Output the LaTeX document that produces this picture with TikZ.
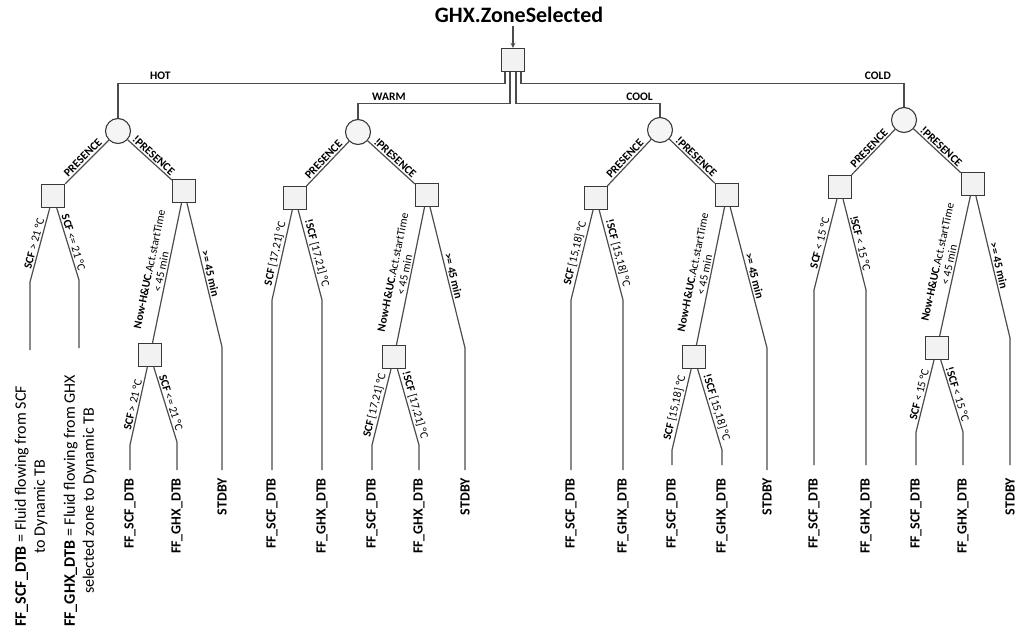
\documentclass[tikz,border=0pt]{standalone}
\usepackage{fontspec}
\setmainfont{Carlito}
\begin{document}
\begin{tikzpicture}[x=1pt,y=-1pt,
  ln/.style={draw=gray!60!black,line width=1.2pt},
  bx/.style={draw=gray!45!black,line width=1.3pt,fill=gray!10,minimum size=23pt,inner sep=0pt},
  cr/.style={circle,draw=gray!45!black,line width=1.1pt,fill=gray!8,minimum size=25pt,inner sep=0pt},
  el/.style={font=\fontsize{11.5}{12}\selectfont,sloped,above,inner sep=1.5pt},
  eb/.style={el,font=\bfseries\fontsize{11.5}{12}\selectfont},
  br/.style={font=\bfseries\fontsize{11.5}{12}\selectfont,above,inner sep=2pt},
  lf/.style={font=\bfseries\fontsize{14}{15}\selectfont,rotate=90,anchor=east,inner sep=0pt},
  lg/.style={font=\fontsize{16}{19}\selectfont,rotate=90,anchor=west,align=center,inner sep=0pt}]
\useasboundingbox (0,0) rectangle (1024,631);
\node[font=\bfseries\fontsize{22}{24}\selectfont] (title) at (519,15) {GHX.ZoneSelected};
\node[bx] (root) at (513,60) {};
\draw[ln,-stealth] ([xshift=-6pt]title.south) -- (root);
% level-1 circles
\node[cr] (hot) at (118,131) {};
\node[cr] (warm) at (358,132) {};
\node[cr] (cool) at (660,130) {};
\node[cr] (cold) at (904,120) {};
\draw[ln] ([xshift=-8pt]root.south) -- ++(0,11) coordinate (hh) -| (hot);
\draw[ln] ([xshift=-3pt]root.south) -- ++(0,31) coordinate (ww) -| (warm);
\draw[ln] ([xshift=3pt]root.south) -- ++(0,31) coordinate (oo) -| (cool);
\draw[ln] ([xshift=8pt]root.south) -- ++(0,11) coordinate (dd) -| (cold);
\node[br,anchor=south west] at (148,82) {HOT};
\node[br,anchor=south west] at (370,103) {WARM};
\node[br,anchor=south east] at (655,103) {COOL};
\node[br,anchor=south east] at (893,82) {COLD};

% ================= HOT
\node[bx] (hp) at (53,196) {};
\node[bx] (hn) at (184,191) {};
\draw[ln] (hot) -- node[eb]{PRESENCE} (hp);
\draw[ln] (hot) -- node[eb]{!PRESENCE} (hn);
\coordinate (h1) at (30,282); \coordinate (h1e) at (30,350);
\coordinate (h2) at (79,280); \coordinate (h2e) at (79,348);
\draw[ln] (hp) -- node[el]{\textbf{SCF} > 21 °C} (h1) -- (h1e);
\draw[ln] (hp) -- node[el]{\textbf{SCF} <= 21 °C} (h2) -- (h2e);
\node[bx] (hs) at (150,355) {};
\coordinate (h3) at (222,347); \coordinate (h3e) at (222,470);
\draw[ln] (hn) -- node[el,align=center]{\textbf{Now-H\&UC}.Act.startTime\\< 45 min} (hs);
\draw[ln] (hn) -- node[eb]{>= 45 min} (h3) -- (h3e);
\coordinate (h4) at (130,445); \coordinate (h4e) at (130,470);
\coordinate (h5) at (177,442); \coordinate (h5e) at (177,470);
\draw[ln] (hs) -- node[el]{\textbf{SCF} > 21 °C} (h4) -- (h4e);
\draw[ln] (hs) -- node[el]{\textbf{SCF} <= 21 °C} (h5) -- (h5e);
\node[lg] (lg1) at (31,627) {\textbf{FF\_SCF\_DTB} = Fluid flowing from SCF\\to Dynamic TB};
\node[lg] (lg2) at (80,627) {\textbf{FF\_GHX\_DTB} = Fluid flowing from GHX\\selected zone to Dynamic TB};
\node[lf] (hl1) at (130,478) {FF\_SCF\_DTB};
\node[lf] (hl2) at (177,478) {FF\_GHX\_DTB};
\node[lf] (hl3) at (222,478) {STDBY};

% ================= WARM
\node[bx] (wp) at (295,198) {};
\node[bx] (wn) at (427,195) {};
\draw[ln] (warm) -- node[eb]{PRESENCE} (wp);
\draw[ln] (warm) -- node[eb]{!PRESENCE} (wn);
\coordinate (w1) at (272,300); \coordinate (w1e) at (272,470);
\coordinate (w2) at (322,300); \coordinate (w2e) at (322,470);
\draw[ln] (wp) -- node[el]{\textbf{SCF} [17,21] °C} (w1) -- (w1e);
\draw[ln] (wp) -- node[el]{\textbf{!SCF} [17,21] °C} (w2) -- (w2e);
\node[bx] (ws) at (394,357) {};
\coordinate (w3) at (465,348); \coordinate (w3e) at (465,470);
\draw[ln] (wn) -- node[el,align=center]{\textbf{Now-H\&UC}.Act.startTime\\< 45 min} (ws);
\draw[ln] (wn) -- node[eb]{>= 45 min} (w3) -- (w3e);
\coordinate (w4) at (372,445); \coordinate (w4e) at (372,470);
\coordinate (w5) at (419,445); \coordinate (w5e) at (419,470);
\draw[ln] (ws) -- node[el]{\textbf{SCF} [17,21] °C} (w4) -- (w4e);
\draw[ln] (ws) -- node[el]{\textbf{!SCF} [17,21] °C} (w5) -- (w5e);
\node[lf] (wl1) at (272,478) {FF\_SCF\_DTB};
\node[lf] (wl2) at (322,478) {FF\_GHX\_DTB};
\node[lf] (wl3) at (372,478) {FF\_SCF\_DTB};
\node[lf] (wl4) at (419,478) {FF\_GHX\_DTB};
\node[lf] (wl5) at (465,478) {STDBY};

% ================= COOL
\node[bx] (op) at (596,198) {};
\node[bx] (on) at (727,195) {};
\draw[ln] (cool) -- node[eb]{PRESENCE} (op);
\draw[ln] (cool) -- node[eb]{!PRESENCE} (on);
\coordinate (o1) at (571,300); \coordinate (o1e) at (571,470);
\coordinate (o2) at (623,300); \coordinate (o2e) at (623,470);
\draw[ln] (op) -- node[el]{\textbf{SCF} [15,18] °C} (o1) -- (o1e);
\draw[ln] (op) -- node[el]{\textbf{!SCF} [15,18] °C} (o2) -- (o2e);
\node[bx] (os) at (694,357) {};
\coordinate (o3) at (767,348); \coordinate (o3e) at (767,470);
\draw[ln] (on) -- node[el,align=center]{\textbf{Now-H\&UC}.Act.startTime\\< 45 min} (os);
\draw[ln] (on) -- node[eb]{>= 45 min} (o3) -- (o3e);
\coordinate (o4) at (672,450); \coordinate (o4e) at (672,465);
\coordinate (o5) at (722,450); \coordinate (o5e) at (722,465);
\draw[ln] (os) -- node[el]{\textbf{SCF} [15,18] °C} (o4) -- (o4e);
\draw[ln] (os) -- node[el]{\textbf{!SCF} [15,18] °C} (o5) -- (o5e);
\node[lf] (ol1) at (571,478) {FF\_SCF\_DTB};
\node[lf] (ol2) at (623,478) {FF\_GHX\_DTB};
\node[lf] (ol3) at (672,478) {FF\_SCF\_DTB};
\node[lf] (ol4) at (722,478) {FF\_GHX\_DTB};
\node[lf] (ol5) at (767,478) {STDBY};

% ================= COLD
\node[bx] (dp) at (840,187) {};
\node[bx] (dn) at (973,184) {};
\draw[ln] (cold) -- node[eb]{PRESENCE} (dp);
\draw[ln] (cold) -- node[eb]{!PRESENCE} (dn);
\coordinate (d1) at (814,290); \coordinate (d1e) at (814,465);
\coordinate (d2) at (866,290); \coordinate (d2e) at (866,465);
\draw[ln] (dp) -- node[el]{\textbf{SCF} < 15 °C} (d1) -- (d1e);
\draw[ln] (dp) -- node[el]{\textbf{!SCF} < 15 °C} (d2) -- (d2e);
\node[bx] (ds) at (937,348) {};
\coordinate (d3) at (1010,338); \coordinate (d3e) at (1010,465);
\draw[ln] (dn) -- node[el,align=center]{\textbf{Now-H\&UC}.Act.startTime\\< 45 min} (ds);
\draw[ln] (dn) -- node[eb]{>= 45 min} (d3) -- (d3e);
\coordinate (d4) at (916,432); \coordinate (d4e) at (916,465);
\coordinate (d5) at (963,432); \coordinate (d5e) at (963,465);
\draw[ln] (ds) -- node[el]{\textbf{SCF} < 15 °C} (d4) -- (d4e);
\draw[ln] (ds) -- node[el]{\textbf{!SCF} < 15 °C} (d5) -- (d5e);
\node[lf] (dl1) at (814,478) {FF\_SCF\_DTB};
\node[lf] (dl2) at (866,478) {FF\_GHX\_DTB};
\node[lf] (dl3) at (916,478) {FF\_SCF\_DTB};
\node[lf] (dl4) at (963,478) {FF\_GHX\_DTB};
\node[lf] (dl5) at (1010,478) {STDBY};
\end{tikzpicture}
\end{document}
